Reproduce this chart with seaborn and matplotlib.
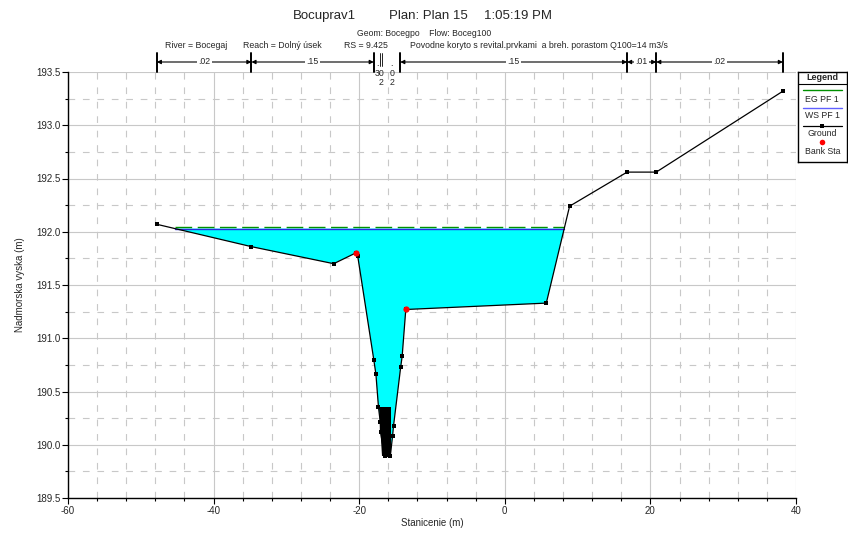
import numpy as np
import pandas as pd
import matplotlib
matplotlib.use("Agg")
import matplotlib.pyplot as plt
import matplotlib.transforms as mtransforms
import seaborn as sns

# ---- cross-section data (station m, elevation m) ----
ground_x = [-47.8, -34.8, -23.5, -20.5, -20.2, -18.0, -17.7, -17.35, -17.1, -17.07,
            -16.52, -15.73, -15.42, -15.28, -14.3, -14.1, -13.6, 5.7, 8.9, 16.8, 20.8, 38.2]
ground_y = [192.07, 191.86, 191.70, 191.80, 191.77, 190.80, 190.66, 190.35, 190.21, 190.12,
            189.89, 189.89, 190.08, 190.18, 190.73, 190.83, 191.27, 191.33, 192.24, 192.56, 192.56, 193.32]

# dense survey points in the channel bed
block_x = [-17.34, -15.60, -15.60, -16.84]
block_y = [190.355, 190.355, 189.89, 189.89]

bank_x = [-20.5, -13.6]
bank_y = [191.80, 191.27]

ws_elev = 192.03   # WS PF 1
eg_elev = 192.04   # EG PF 1

# Manning's n regions
n_edges = [-47.8, -34.8, -18.0, -14.36, 16.8, 20.8, 38.2]
n_labels = [".02", ".15", None, ".15", ".01", ".02"]
n_thin_edges = [-17.1, -16.83]

x_ticks = [-60, -40, -20, 0, 20, 40]
y_ticks = [189.5, 190.0, 190.5, 191.0, 191.5, 192.0, 192.5, 193.0, 193.5]

sns.set_theme(style="white")
plt.rcParams["font.family"] = ["Liberation Sans", "DejaVu Sans"]
plt.rcParams["axes.unicode_minus"] = False

W, H = 848, 543
fig = plt.figure(figsize=(W / 100, H / 100), dpi=100)
ax_l, ax_r, ax_t, ax_b = 68, 796, 72, 498
ax = fig.add_axes([ax_l / W, 1 - ax_b / H, (ax_r - ax_l) / W, (ax_b - ax_t) / H])


def fx(px):
    return px / W


def fy(py):
    return 1 - py / H


ax.set_xlim(-60, 40)
ax.set_ylim(189.5, 193.5)
ax.set_xticks(x_ticks)
ax.set_xticklabels([str(v) for v in x_ticks])
ax.set_yticks(y_ticks)
ax.set_yticklabels([f"{v:.1f}" for v in y_ticks])
ax.xaxis.set_minor_locator(matplotlib.ticker.MultipleLocator(4))
ax.yaxis.set_minor_locator(matplotlib.ticker.MultipleLocator(0.25))
ax.tick_params(axis="both", which="major", direction="out", length=4, width=0.8,
               labelsize=7, color="black", pad=1.5, bottom=True, left=True)
ax.tick_params(axis="both", which="minor", direction="out", length=2.5, width=0.8,
               color="black", bottom=True, left=True)

ax.grid(which="major", color="#c8c8c8", lw=0.8, ls="-")
ax.grid(which="minor", color="#c8c8c8", lw=0.8, ls=(0, (6, 7)))
ax.set_axisbelow(True)
for s in ["top", "right"]:
    ax.spines[s].set_visible(False)
for s in ["left", "bottom"]:
    ax.spines[s].set_color("black")
    ax.spines[s].set_linewidth(1.0)

# ---- water area: ground below the water surface ----
gx = np.array(ground_x)
gy = np.array(ground_y)
x_left = np.interp(ws_elev, [gy[1], gy[0]], [gx[1], gx[0]])
x_right = np.interp(ws_elev, [gy[17], gy[18]], [gx[17], gx[18]])
inside = (gx > x_left) & (gx < x_right)
poly_x = [x_left] + list(gx[inside]) + [x_right]
poly_y = [ws_elev] + list(gy[inside]) + [ws_elev]
ax.fill(poly_x, poly_y, color="#00ffff", lw=0, zorder=2)
ax.fill(block_x, block_y, color="black", lw=0, zorder=3)

wl = pd.DataFrame({"x": [x_left, x_right], "ws": [ws_elev, ws_elev], "eg": [eg_elev, eg_elev]})
sns.lineplot(data=wl, x="x", y="eg", ax=ax, color="#009000", lw=1.0, zorder=4,
             dashes=False, linestyle=(0, (12, 4)))
sns.lineplot(data=wl, x="x", y="ws", ax=ax, color="#2828e0", lw=1.0, zorder=5)

ground = pd.DataFrame({"x": ground_x, "y": ground_y})
sns.lineplot(data=ground, x="x", y="y", ax=ax, sort=False, estimator=None, color="black",
             lw=0.9, marker="s", markersize=3.4, markeredgewidth=0, zorder=6)
sns.scatterplot(x=bank_x, y=bank_y, ax=ax, color="red", s=20, linewidth=0, zorder=7)

ax.set_xlabel("Stanicenie (m)", fontsize=7)
ax.set_ylabel("Nadmorska vyska (m)", fontsize=7)
ax.xaxis.set_label_coords(0.5, -0.047)
ax.yaxis.set_label_coords(-0.059, 0.5)

# ---- headings ----
fig.text(fx(293), fy(16), "Bocuprav1", fontsize=9.5, va="center", ha="left")
fig.text(fx(389), fy(16), "Plan: Plan 15", fontsize=9.5, va="center", ha="left")
fig.text(fx(484), fy(16), "1:05:19 PM", fontsize=9.5, va="center", ha="left")
fig.text(fx(357), fy(33), "Geom: Bocegpo    Flow: Boceg100", fontsize=6.2, va="center", ha="left")
fig.text(fx(165), fy(45), "River = Bocegaj", fontsize=6.3, va="center", ha="left")
fig.text(fx(243), fy(45), "Reach = Dolný úsek", fontsize=6.3, va="center", ha="left")
fig.text(fx(344), fy(45), "RS = 9.425", fontsize=6.3, va="center", ha="left")
fig.text(fx(410), fy(45), "Povodne koryto s revital.prvkami  a breh. porastom Q100=14 m3/s",
         fontsize=6.3, va="center", ha="left")

# ---- Manning's n bars above the plot ----
trans = mtransforms.blended_transform_factory(ax.transData, fig.transFigure)
y_arrow = fy(62)
for e in n_edges:
    ax.plot([e, e], [fy(53), fy(72)], transform=trans, color="black", lw=1.4, clip_on=False)
for e in n_thin_edges:
    ax.plot([e, e], [fy(53), fy(66)], transform=trans, color="black", lw=0.6, clip_on=False)
for a, b, lab in zip(n_edges[:-1], n_edges[1:], n_labels):
    if lab is None:
        continue
    mid = (a + b) / 2
    for end in (a, b):
        ax.annotate("", xy=(end, y_arrow), xytext=(mid, y_arrow), xycoords=trans,
                    textcoords=trans,
                    arrowprops=dict(arrowstyle="-|>", color="black", lw=0.8,
                                    shrinkA=0, shrinkB=0, mutation_scale=6))
    ax.text(mid, y_arrow, lab, transform=trans, fontsize=6.3, ha="center", va="center",
            bbox=dict(facecolor="white", edgecolor="none", pad=1.0))

fig.text(fx(377.3), fy(64), ".", fontsize=6.3, ha="center", va="center")
fig.text(fx(380), fy(73), "30", fontsize=6.3, ha="center", va="center")
fig.text(fx(380.7), fy(83), "2", fontsize=6.3, ha="center", va="center")
fig.text(fx(391.7), fy(64), ".", fontsize=6.3, ha="center", va="center")
fig.text(fx(392), fy(73), "0", fontsize=6.3, ha="center", va="center")
fig.text(fx(391.7), fy(83), "2", fontsize=6.3, ha="center", va="center")

# ---- legend box ----
lg_top, lg_bot = 72.3, 161.7
lax = fig.add_axes([fx(797.7), fy(lg_bot), (847 - 797.7) / W, (lg_bot - lg_top) / H])
lax.set_xlim(0, 1)
lax.set_ylim(lg_bot - lg_top, 0)
lax.set_xticks([])
lax.set_yticks([])
lax.set_facecolor("white")
for s in lax.spines.values():
    s.set_visible(True)
    s.set_color("black")
    s.set_linewidth(1.0)
lax.text(0.5, 5.4, "Legend", fontsize=6.5, fontweight="bold", ha="center", va="center")
lax.plot([0, 1], [11.7, 11.7], color="black", lw=0.8)
lax.plot([0.1, 0.9], [17.7, 17.7], color="#009000", lw=1.0)
lax.text(0.5, 26.7, "EG PF 1", fontsize=6.3, ha="center", va="center")
lax.plot([0.1, 0.9], [36.0, 36.0], color="#6060ff", lw=1.0)
lax.text(0.5, 43.0, "WS PF 1", fontsize=6.3, ha="center", va="center")
lax.plot([0.1, 0.9], [53.4, 53.4], color="black", lw=0.9)
lax.plot([0.5], [53.4], color="black", marker="s", markersize=3.4, markeredgewidth=0)
lax.text(0.5, 61.0, "Ground", fontsize=6.3, ha="center", va="center")
lax.plot([0.5], [69.4], color="red", marker="o", markersize=4, markeredgewidth=0)
lax.text(0.5, 79.4, "Bank Sta", fontsize=6.3, ha="center", va="center")

fig.savefig("out.png", dpi=100)
